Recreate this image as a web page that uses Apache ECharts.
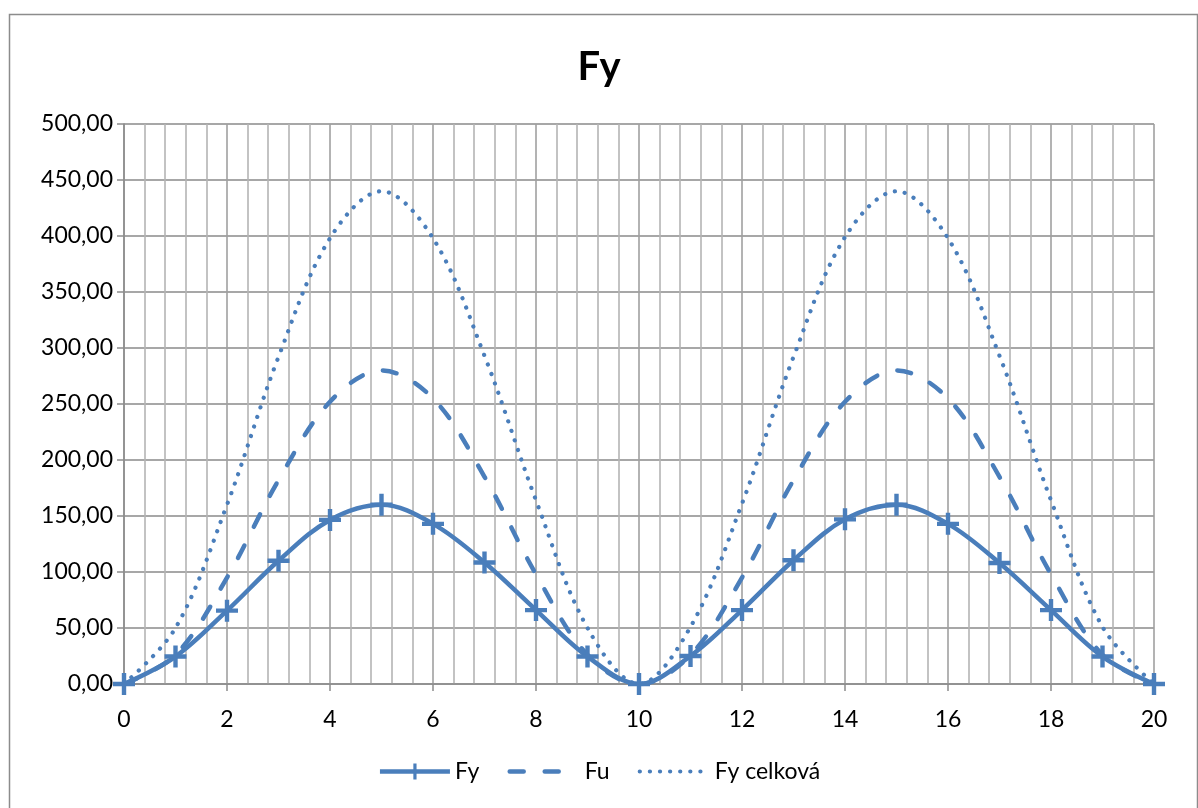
<!DOCTYPE html>
<html>
<head>
<meta charset="utf-8">
<script src="https://cdn.jsdelivr.net/npm/echarts@6/dist/echarts.min.js"></script>
<style>
html,body{margin:0;padding:0;background:#fff;}
#chart{width:1198px;height:808px;}
</style>
</head>
<body>
<div id="chart"></div>
<script>
const xValues = [0,1,2,3,4,5,6,7,8,9,10,11,12,13,14,15,16,17,18,19,20];
const fy = [0,24.5,65.5,110,146.5,160,143,108.5,66,24.5,0,25,66,110.5,147,160,143,108,66,24.5,0];
const fu = [0,26,95,182,252,280,255,185,98,26,0,26,95,182,252,280,255,185,98,26,0];
const fyCelkova = [0,50,160,292,398,440,398,293,164,50,0,51,161,292,399,440,398,293,164,51,0];
const seriesNames = ['Fy','Fu','Fy celková'];
const titleText = 'Fy';
const yTickLabels = ['0,00','50,00','100,00','150,00','200,00','250,00','300,00','350,00','400,00','450,00','500,00'];
const xTickLabels = ['0','2','4','6','8','10','12','14','16','18','20'];

const blue = '#4A7EBB';
const font = 'Lato, "Liberation Sans", sans-serif';
const pair = arr => xValues.map((x, i) => [x, arr[i]]);
const plus = 'path://M8,0 L12,0 L12,8 L20,8 L20,12 L12,12 L12,20 L8,20 L8,12 L0,12 L0,8 L8,8 Z';

const chart = echarts.init(document.getElementById('chart'), null, {renderer: 'canvas'});
chart.setOption({
  animation: false,
  backgroundColor: '#fff',
  graphic: [{
    type: 'rect', left: 7, top: 12, shape: {width: 1188, height: 800},
    style: {fill: 'none', stroke: '#8c8c8c', lineWidth: 1.5}, z: -1
  }],
  title: {
    text: titleText, left: 'center', top: 42,
    textStyle: {fontFamily: font, fontSize: 40, fontWeight: 'bold', color: '#000'}
  },
  legend: {
    bottom: 20, left: 'center',
    itemWidth: 70, itemHeight: 20, itemGap: 28,
    textStyle: {fontFamily: font, fontSize: 23, color: '#000'},
    data: [
      {name: seriesNames[0], lineStyle: {width: 4.5}},
      {name: seriesNames[1], lineStyle: {width: 4.5}, itemStyle: {opacity: 0}},
      {name: seriesNames[2], lineStyle: {width: 4.2}, itemStyle: {opacity: 0}}
    ]
  },
  grid: {left: 124, right: 44, top: 124, bottom: 124},
  xAxis: {
    type: 'value', min: 0, max: 20, interval: 2,
    axisLine: {show: true, onZero: false, lineStyle: {color: '#8c8c8c', width: 1.5}},
    axisTick: {show: true, length: 7, lineStyle: {color: '#8c8c8c', width: 1.5}},
    axisLabel: {
      fontFamily: font, fontSize: 23, color: '#000', margin: 24,
      formatter: v => xTickLabels[Math.round(v / 2)]
    },
    splitLine: {show: true, lineStyle: {color: '#a0a0a0', width: 1.6}},
    minorTick: {show: false, splitNumber: 5},
    minorSplitLine: {show: true, lineStyle: {color: '#b4b4b4', width: 1.6}}
  },
  yAxis: {
    type: 'value', min: 0, max: 500, interval: 50,
    axisLine: {show: true, lineStyle: {color: '#8c8c8c', width: 1.6}},
    axisTick: {show: true, length: 7, lineStyle: {color: '#8c8c8c', width: 1.5}},
    axisLabel: {
      fontFamily: font, fontSize: 23, color: '#000', margin: 11,
      formatter: v => yTickLabels[Math.round(v / 50)]
    },
    splitLine: {show: true, lineStyle: {color: '#8a8a8a', width: 1.6}}
  },
  series: [
    {
      name: seriesNames[0], type: 'line', data: pair(fy), smooth: 0.35,
      symbol: plus, symbolSize: 22, showAllSymbol: true,
      itemStyle: {color: blue, borderWidth: 0},
      lineStyle: {color: blue, width: 4.5}, z: 5
    },
    {
      name: seriesNames[1], type: 'line', data: pair(fu), smooth: 0.35,
      symbol: 'none',
      itemStyle: {color: blue},
      lineStyle: {color: blue, width: 4.5, type: [14, 21], cap: 'round'}, z: 4
    },
    {
      name: seriesNames[2], type: 'line', data: pair(fyCelkova), smooth: 0.35,
      symbol: 'none',
      itemStyle: {color: blue},
      lineStyle: {color: blue, width: 4.2, type: [0.1, 10], cap: 'round'}, z: 3
    }
  ]
});
</script>
</body>
</html>
